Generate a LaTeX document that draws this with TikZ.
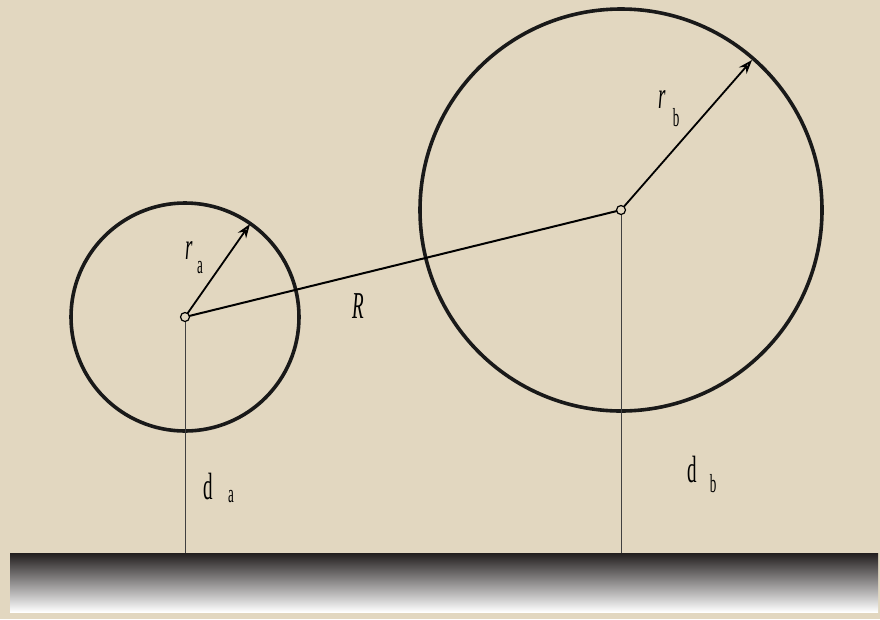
\documentclass[tikz,border=0pt]{standalone}
\usepackage{fontspec}
\setmainfont{Liberation Serif}
\usetikzlibrary{positioning,arrows.meta}
\definecolor{canvas}{RGB}{226,215,192}
\definecolor{barTop}{RGB}{34,30,30}
\begin{document}
\begin{tikzpicture}[
      x=1pt, y=-1pt,
      ring/.style={draw=black!90, circle, line width=3.6pt, inner sep=0pt},
      hub/.style={draw, circle, line width=1.2pt, minimum size=9pt, inner sep=0pt, fill=canvas},
      radarr/.style={-{Stealth[length=14pt,width=10pt,open]}, line width=1.8pt},
      drop/.style={draw=black!75, line width=1pt},
      lab/.style={font=\fontsize{38}{38}\selectfont, xscale=0.5, inner sep=0pt},
      sub/.style={font=\fontsize{26}{26}\selectfont, xscale=0.5, inner sep=0pt}
  ]
    \fill[canvas] (0,0) rectangle (880,619);
    \useasboundingbox (0,0) rectangle (880,619);
    % ground bar
    \shade[top color=barTop, bottom color=white] (10,553) rectangle (878,612);
    \coordinate (ga) at (185,553);
    \coordinate (gb) at (621,553);
    % circles
    \node[ring, minimum size=228pt] (circa) at (185,317) {};
    \node[ring, minimum size=402pt] (circb) at (621,210) {};
    \coordinate (ta) at (250,224);
    \coordinate (tb) at (752,60);
    \draw[drop] (circa.center) -- (ga);
    \draw[drop] (circb.center) -- (gb);
    \draw[line width=2pt] (circa.center) -- (circb.center);
    \draw[radarr] (circa.center) -- (ta);
    \draw[radarr] (circb.center) -- (tb);
    \node[hub] (hubA) at (circa.center) {};
    \node[hub] (hubB) at (circb.center) {};
    % labels
    \node[lab] (ra) at (189,251) {\itshape r};
    \node[sub] (raSub) at (200,268) {a};
    \node[lab] (rb) at (662,100) {\itshape r};
    \node[sub] (rbSub) at (676,118) {b};
    \node[lab] (lR) at (358,306) {\itshape R};
    \node[lab] (da) at (208,486) {d};
    \node[sub] (daSub) at (231,497) {a};
    \node[lab] (db) at (692,469) {d};
    \node[sub] (dbSub) at (713,484) {b};
  \end{tikzpicture}
\end{document}
